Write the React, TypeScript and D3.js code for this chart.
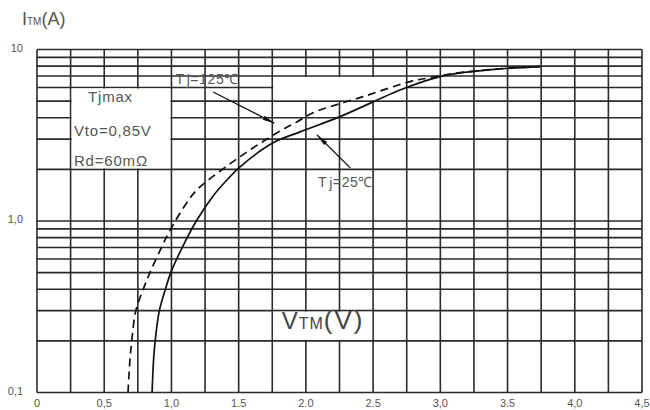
import React from "react";
import * as d3 from "d3";

const W = 650;
const H = 410;

// Tj = 25°C (solid)
const solidV = [0.856, 0.866, 0.879, 0.91, 0.955, 0.995, 1.08, 1.185, 1.31, 1.414, 1.51, 1.756, 1.957, 2.254, 2.7, 2.924, 3.073, 3.445, 3.743];
const solidI = [0.1, 0.15, 0.2, 0.3, 0.4, 0.5, 0.7, 1.0, 1.4, 1.74, 2.07, 2.86, 3.31, 4.06, 5.8, 6.7, 7.15, 7.7, 7.95];
// Tj = 125°C (dashed)
const dashedV = [0.677, 0.69, 0.705, 0.735, 0.79, 0.84, 0.925, 0.99, 1.138, 1.213, 1.51, 1.786, 1.935, 2.054, 2.426, 2.775, 2.924, 3.073, 3.445, 3.743];
const dashedI = [0.1, 0.15, 0.2, 0.3, 0.4, 0.5, 0.7, 0.885, 1.36, 1.58, 2.37, 3.27, 3.79, 4.28, 5.31, 6.5, 6.85, 7.2, 7.72, 7.95];

const xTickValues = [0, 0.5, 1, 1.5, 2, 2.5, 3, 3.5, 4, 4.5];
const xTickLabels = ["0", "0,5", "1,0", "1.5", "2.0", "2.5", "3,0", "3.5", "4,0", "4,5"];
const yTickValues = [0.1, 1, 10];
const yTickLabels = ["0,1", "1,0", "10"];

const legendLines = ["Tjmax", "Vto=0,85V", "Rd=60mΩ"];

export default function App() {
  const x = d3.scaleLinear().domain([0, 4.5]).range([37, 642]);
  const y = d3.scaleLog().domain([0.1, 10]).range([392.5, 49.5]);

  const vGrid = d3.range(0, 4.5001, 0.25);
  const hGrid: number[] = [];
  for (let d = 0.1; d < 5; d *= 10) {
    for (let k = 1; k <= 9; k++) hGrid.push(+(d * k).toPrecision(3));
  }
  hGrid.push(10);

  const line = d3
    .line<[number, number]>()
    .x((d) => x(d[0]))
    .y((d) => y(d[1]))
    .curve(d3.curveCatmullRom.alpha(0.5));

  const solid = line(solidV.map((v, i) => [v, solidI[i]] as [number, number]));
  const dashed = line(dashedV.map((v, i) => [v, dashedI[i]] as [number, number]));

  const gridColor = "#2a2a2a";
  const textColor = "#555";

  // white boxes (in data coords)
  const boxes = [
    { v0: 0.25, v1: 1.0, i0: 2, i1: 6 },
    { v0: 1.75, v1: 2.75, i0: 5, i1: 7 },
    { v0: 1.75, v1: 2.5, i0: 0.2, i1: 0.3 },
  ];

  const arrows = [
    { from: [1.31, 5.65], to: [1.765, 3.72] },
    { from: [2.33, 2.04], to: [2.083, 3.17] },
  ];

  const fontFamily = "Liberation Sans, Arial, sans-serif";

  return (
    <svg
      width={W}
      height={H}
      style={{ position: "absolute", left: 0, top: 0, background: "#fff" }}
      fontFamily={fontFamily}
    >
      <defs>
        <marker id="arr" viewBox="0 0 12 6" refX="12" refY="3" markerWidth="12" markerHeight="6" orient="auto" markerUnits="userSpaceOnUse">
          <path d="M0,0.8 L12,3 L0,5.2 Z" fill="#111" />
        </marker>
      </defs>
      <rect x={0} y={0} width={W} height={H} fill="#fff" />
      {/* grid */}
      <g stroke={gridColor} strokeWidth={1.6}>
        {vGrid.map((v) => (
          <line key={"v" + v} x1={x(v)} x2={x(v)} y1={y(10)} y2={y(0.1)} />
        ))}
        {hGrid.map((h) => (
          <line key={"h" + h} x1={x(0)} x2={x(4.5)} y1={y(h)} y2={y(h)} />
        ))}
      </g>
      {/* white boxes */}
      {boxes.map((b, k) => (
        <rect
          key={k}
          x={x(b.v0) + 1}
          y={y(b.i1) + 1}
          width={x(b.v1) - x(b.v0) - 2}
          height={y(b.i0) - y(b.i1) - 2}
          fill="#fff"
        />
      ))}
      {/* curves */}
      <path d={solid || ""} fill="none" stroke="#111" strokeWidth={1.7} />
      <path d={dashed || ""} fill="none" stroke="#111" strokeWidth={1.7} strokeDasharray="8,5" />
      {/* arrows */}
      {arrows.map((a, k) => (
        <line
          key={k}
          x1={x(a.from[0])}
          y1={y(a.from[1])}
          x2={x(a.to[0])}
          y2={y(a.to[1])}
          stroke="#111"
          strokeWidth={1.3}
          markerEnd="url(#arr)"
        />
      ))}
      {/* annotations */}
      <text x={x(1.03)} y={y(6.3)} fontSize={14} fill={textColor} letterSpacing={0.6}>
        T<tspan dx={2} dy={1}>j</tspan>
        <tspan dy={-1}>=125℃</tspan>
      </text>
      <text x={x(2.09)} y={y(1.58)} fontSize={14} fill={textColor} letterSpacing={0.6}>
        T<tspan dx={2} dy={1}>j</tspan>
        <tspan dy={-1}>=25℃</tspan>
      </text>
      {/* legend */}
      {legendLines.map((t, k) => (
        <text
          key={t}
          x={k === 0 ? x(0.38) : x(0.275)}
          y={[102, 136, 166][k]}
          fontSize={15}
          letterSpacing={0.8}
          fill={textColor}
        >
          {t}
        </text>
      ))}
      {/* VTM(V) */}
      <text x={x(1.82)} y={y(0.235)} fontSize={24} fill="#444" letterSpacing={1}>
        V<tspan fontSize={16}>TM</tspan>
        <tspan fontSize={26} letterSpacing={2}>(V)</tspan>
      </text>
      {/* y axis title */}
      <text x={22} y={25} fontSize={18} fill={textColor}>
        I<tspan fontSize={10}>TM</tspan>
        <tspan>(A)</tspan>
      </text>
      {/* tick labels */}
      {xTickValues.map((v, k) => (
        <text key={"xt" + v} x={x(v)} y={407} fontSize={11} fill={textColor} textAnchor="middle">
          {xTickLabels[k]}
        </text>
      ))}
      {yTickValues.map((v, k) => (
        <text key={"yt" + v} x={23} y={y(v) + 2} fontSize={11} fill={textColor} textAnchor="end">
          {yTickLabels[k]}
        </text>
      ))}
    </svg>
  );
}
